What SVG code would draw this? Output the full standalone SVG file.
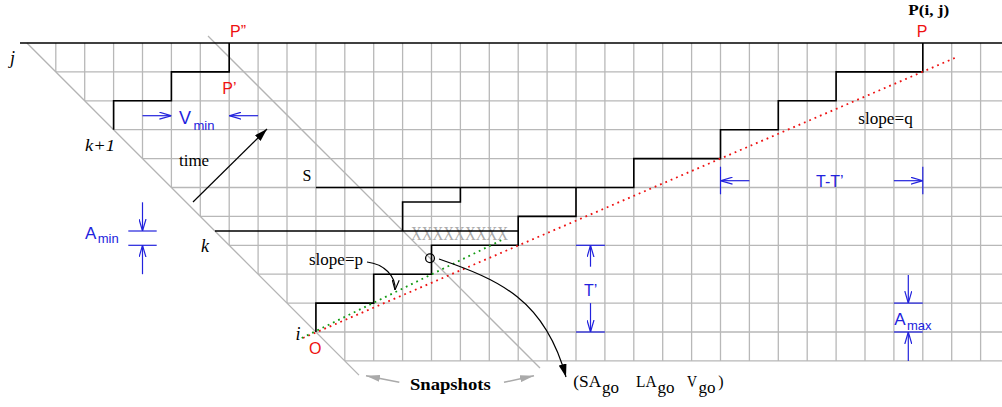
<svg xmlns="http://www.w3.org/2000/svg" width="1002" height="407" viewBox="0 0 1002 407">
<style>
.grid{stroke:#b8b8b8;stroke-width:1.3;fill:none}
.diag{stroke:#b4b4b4;stroke-width:1.3;fill:none}
.stair{stroke:#000;stroke-width:1.6;fill:none}
.dim{stroke:#2222dd;stroke-width:1.2;fill:none}
.serif{font-family:"Liberation Serif",serif;fill:#000}
.sans{font-family:"Liberation Sans",Arial,sans-serif}
.red{fill:#ee1111}
.blue{fill:#2222dd}
</style>
<defs>
<clipPath id="gclip"><polygon points="26.9,43 1002,43 1002,362 345.9,362"/></clipPath>
<marker id="bo" viewBox="0 0 12 8" refX="12" refY="4" markerWidth="12" markerHeight="8" markerUnits="userSpaceOnUse" orient="auto"><path d="M0,0.5 L12,4 L0,7.5" fill="none" stroke="#2222dd" stroke-width="1.2"/></marker>
<marker id="ko" viewBox="0 0 10 8" refX="10" refY="4" markerWidth="10" markerHeight="8" markerUnits="userSpaceOnUse" orient="auto"><path d="M0,0.5 L10,4 L0,7.5" fill="none" stroke="#000" stroke-width="1.1"/></marker>
<marker id="kf" viewBox="0 0 13 8" refX="13" refY="4" markerWidth="13" markerHeight="8" markerUnits="userSpaceOnUse" orient="auto"><path d="M0,0 L13,4 L0,8 Z" fill="#000"/></marker>
<marker id="gf" viewBox="0 0 14 7" refX="14" refY="3.5" markerWidth="14" markerHeight="7" markerUnits="userSpaceOnUse" orient="auto"><path d="M0,0 L14,3.5 L0,7 Z" fill="#aaaaaa"/></marker>
</defs>

<g id="grid" clip-path="url(#gclip)">
<path class="grid" d="M55.8,43V361M84.7,43V361M113.6,43V361M142.5,43V361M171.4,43V361M200.3,43V361M229.2,43V361M258.1,43V361M287,43V361M315.9,43V361M344.8,43V361M373.7,43V361M402.6,43V361M431.5,43V361M460.4,43V361M489.3,43V361M518.2,43V361M547.1,43V361M576,43V361M604.9,43V361M633.8,43V361M662.7,43V361M691.6,43V361M720.5,43V361M749.4,43V361M778.3,43V361M807.2,43V361M836.1,43V361M865,43V361M893.9,43V361M922.8,43V361M951.7,43V361M980.6,43V361"/>
<path class="grid" d="M20,71.9H1002M20,100.8H1002M20,129.7H1002M20,158.6H1002M20,187.5H1002M20,216.4H1002M20,245.3H1002M20,274.2H1002M20,303.1H1002M20,332H1002M20,360.9H1002"/>
</g>

<g id="diagonals">
<line class="diag" x1="26.9" y1="43" x2="359" y2="375.1"/>
<line class="diag" x1="208" y1="36" x2="540" y2="368"/>
</g>

<line id="top-line" x1="20" y1="43" x2="1002" y2="43" stroke="#000" stroke-width="1.6"/>

<text id="xxx" class="serif" x="411" y="239.5" font-size="18" style="fill:#aaaaaa" textLength="97" lengthAdjust="spacingAndGlyphs">XXXXXXXXX</text>

<g id="staircases">
<path id="stair-top" class="stair" d="M113.6,129.7V100.8H171.4V71.9H229.2V43"/>
<path id="stair-s" class="stair" d="M315.9,187.5H633.8V158.6H720.5V129.7H778.3V100.8H836.1V71.9H922.8V43"/>
<path id="stair-k" class="stair" d="M215,231H518.2V216.4H576V187.5"/>
<path id="stair-inner" class="stair" d="M402.6,231V202H460.4V187.5"/>
<path id="stair-o" class="stair" d="M315.9,332V303.1H373.7V274.2H431.5V245.3H518.2V231"/>
</g>

<g id="slopes">
<line x1="303" y1="338" x2="957" y2="57" stroke="#ee1111" stroke-width="1.8" stroke-dasharray="1.8 4"/>
<line x1="301.7" y1="338" x2="501.7" y2="240" stroke="#119911" stroke-width="1.8" stroke-dasharray="1.8 4"/>
</g>

<g id="connectors">
<line x1="193" y1="202" x2="267" y2="129" stroke="#000" stroke-width="1.2" marker-end="url(#kf)"/>
<path d="M439,259 C500,280 545,300 566,377" fill="none" stroke="#000" stroke-width="1.2" marker-end="url(#kf)"/>
<path d="M367,262 C384,264 396,276 395,290" fill="none" stroke="#000" stroke-width="1.1" marker-end="url(#ko)"/>
<line x1="399.3" y1="382.3" x2="366" y2="375.7" stroke="#aaaaaa" stroke-width="1.5" marker-end="url(#gf)"/>
<line x1="504" y1="382.3" x2="534" y2="375.7" stroke="#aaaaaa" stroke-width="1.5" marker-end="url(#gf)"/>
</g>

<circle id="snap-point" cx="430" cy="258.3" r="4.4" fill="none" stroke="#000" stroke-width="1.3"/>

<g id="dim-vmin">
<line class="dim" x1="142.5" y1="115.7" x2="171.4" y2="115.7" marker-end="url(#bo)"/>
<line class="dim" x1="258.1" y1="115.7" x2="229.2" y2="115.7" marker-end="url(#bo)"/>
<text class="sans blue" x="179" y="123.5" font-size="18">V</text>
<text class="sans blue" x="193.5" y="129.5" font-size="13">min</text>
</g>
<g id="dim-amin">
<line class="dim" x1="142.5" y1="202.3" x2="142.5" y2="231" marker-end="url(#bo)"/>
<line class="dim" x1="128.3" y1="231" x2="156.7" y2="231"/>
<line class="dim" x1="128.3" y1="245.3" x2="156.7" y2="245.3"/>
<line class="dim" x1="142.5" y1="274.2" x2="142.5" y2="245.3" marker-end="url(#bo)"/>
<text class="sans blue" x="85" y="239.3" font-size="17">A</text>
<text class="sans blue" x="97.7" y="242.7" font-size="13">min</text>
</g>
<g id="dim-tp">
<line class="dim" x1="576" y1="245.3" x2="604.9" y2="245.3"/>
<line class="dim" x1="590.5" y1="266.7" x2="590.5" y2="245.3" marker-end="url(#bo)"/>
<line class="dim" x1="590.5" y1="303.1" x2="590.5" y2="332" marker-end="url(#bo)"/>
<line class="dim" x1="576" y1="332" x2="604.9" y2="332"/>
<text class="sans blue" x="584" y="296" font-size="16">T’</text>
</g>
<g id="dim-ttp">
<line class="dim" x1="720.5" y1="166.7" x2="720.5" y2="194.3"/>
<line class="dim" x1="749.4" y1="180.7" x2="720.5" y2="180.7" marker-end="url(#bo)"/>
<line class="dim" x1="893.9" y1="180.7" x2="922.8" y2="180.7" marker-end="url(#bo)"/>
<line class="dim" x1="922.8" y1="166.7" x2="922.8" y2="194.3"/>
<text class="sans blue" x="816" y="187.3" font-size="16">T-T’</text>
</g>
<g id="dim-amax">
<line class="dim" x1="908.3" y1="275" x2="908.3" y2="303.1" marker-end="url(#bo)"/>
<line class="dim" x1="893.9" y1="303.1" x2="922.8" y2="303.1"/>
<line class="dim" x1="893.9" y1="332" x2="922.8" y2="332"/>
<line class="dim" x1="908.3" y1="360.9" x2="908.3" y2="332" marker-end="url(#bo)"/>
<text class="sans blue" x="894.3" y="325" font-size="17">A</text>
<text class="sans blue" x="907" y="330" font-size="13">max</text>
</g>

<g id="labels">
<text class="sans red" x="230" y="36.7" font-size="16">P”</text>
<text class="sans red" x="222.3" y="94.3" font-size="16">P’</text>
<text class="sans red" x="916.7" y="36.7" font-size="16">P</text>
<text class="sans red" x="309" y="354" font-size="16">O</text>
<text class="serif" x="908.3" y="15" font-size="15" font-weight="bold" textLength="41" lengthAdjust="spacingAndGlyphs">P(i, j)</text>
<text class="serif" x="10" y="64" font-size="18" font-style="italic">j</text>
<text class="serif" x="85" y="151" font-size="17" font-style="italic" textLength="30" lengthAdjust="spacingAndGlyphs">k+1</text>
<text class="serif" x="201" y="252" font-size="18" font-style="italic">k</text>
<text class="serif" x="295.5" y="340" font-size="18" font-style="italic">i</text>
<text class="serif" x="179" y="166" font-size="16" textLength="30" lengthAdjust="spacingAndGlyphs">time</text>
<text class="serif" x="302.5" y="181" font-size="16">S</text>
<text class="serif" x="309" y="265" font-size="16" textLength="54" lengthAdjust="spacingAndGlyphs">slope=p</text>
<text class="serif" x="858.3" y="123.5" font-size="16" textLength="54.4" lengthAdjust="spacingAndGlyphs">slope=q</text>
<text class="serif" x="410" y="390" font-size="17" font-weight="bold" textLength="80.7" lengthAdjust="spacingAndGlyphs">Snapshots</text>
<text class="serif" x="573.3" y="387" font-size="16" textLength="28" lengthAdjust="spacingAndGlyphs">(SA</text>
<text class="serif" x="602" y="393" font-size="16" textLength="17" lengthAdjust="spacingAndGlyphs">go</text>
<text class="serif" x="636" y="387" font-size="16" textLength="20.5" lengthAdjust="spacingAndGlyphs">LA</text>
<text class="serif" x="657.5" y="393" font-size="16" textLength="17" lengthAdjust="spacingAndGlyphs">go</text>
<text class="serif" x="687" y="387" font-size="16" textLength="10" lengthAdjust="spacingAndGlyphs">V</text>
<text class="serif" x="698.5" y="393" font-size="16" textLength="17" lengthAdjust="spacingAndGlyphs">go</text>
<text class="serif" x="718.3" y="387" font-size="16">)</text>
</g>
</svg>
